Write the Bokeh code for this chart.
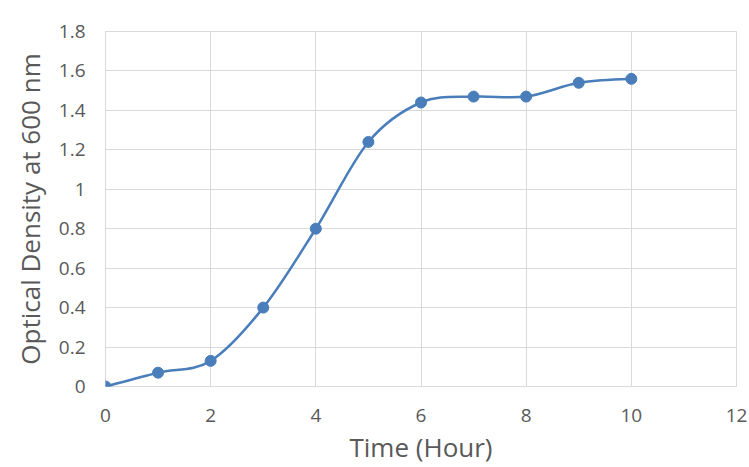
from bokeh.plotting import figure
from bokeh.models import ColumnDataSource, FixedTicker, Range1d
from bokeh.embed import file_html
from bokeh.resources import INLINE

# Data
hours = [0, 1, 2, 3, 4, 5, 6, 7, 8, 9, 10]
od600 = [0.0, 0.07, 0.13, 0.40, 0.80, 1.24, 1.44, 1.47, 1.47, 1.54, 1.56]
x_ticks = [0, 2, 4, 6, 8, 10, 12]
y_ticks = [0, 0.2, 0.4, 0.6, 0.8, 1.0, 1.2, 1.4, 1.6, 1.8]
y_tick_labels = {0: "0", 0.2: "0.2", 0.4: "0.4", 0.6: "0.6", 0.8: "0.8",
                 1.0: "1", 1.2: "1.2", 1.4: "1.4", 1.6: "1.6", 1.8: "1.8"}

BLUE = "#4a7ebb"
GRID = "#d9d9d9"
TEXT = "#595959"
FONT = "Open Sans"

# Smoothed line (Catmull-Rom -> cubic Bezier segments, as in spreadsheet smoothing)
n = len(hours)
seg = dict(x0=[], y0=[], x1=[], y1=[], cx0=[], cy0=[], cx1=[], cy1=[])
for i in range(n - 1):
    xp, yp = (hours[i - 1], od600[i - 1]) if i > 0 else (hours[i], od600[i])
    xa, ya = hours[i], od600[i]
    xb, yb = hours[i + 1], od600[i + 1]
    xn, yn = (hours[i + 2], od600[i + 2]) if i + 2 < n else (hours[i + 1], od600[i + 1])
    seg["x0"].append(xa); seg["y0"].append(ya)
    seg["x1"].append(xb); seg["y1"].append(yb)
    seg["cx0"].append(xa + (xb - xp) / 6); seg["cy0"].append(ya + (yb - yp) / 6)
    seg["cx1"].append(xb - (xn - xa) / 6); seg["cy1"].append(yb - (yn - ya) / 6)

p = figure(width=749, height=467, output_backend="svg", toolbar_location=None,
           x_range=Range1d(0, 12), y_range=Range1d(0, 1.8),
           min_border_left=105, min_border_right=13, min_border_top=31, min_border_bottom=81)

p.background_fill_color = "white"
p.border_fill_color = "white"
p.outline_line_color = GRID
p.outline_line_width = 1

p.bezier(x0="x0", y0="y0", x1="x1", y1="y1", cx0="cx0", cy0="cy0", cx1="cx1", cy1="cy1",
         source=ColumnDataSource(seg), line_color=BLUE, line_width=2.5)
p.scatter(hours, od600, size=11, fill_color=BLUE, line_color=BLUE)

for ax in (p.xaxis, p.yaxis):
    ax.axis_line_color = None
    ax.major_tick_line_color = None
    ax.minor_tick_line_color = None
    ax.major_tick_out = 0
    ax.major_label_text_font = FONT
    ax.major_label_text_font_size = "19px"
    ax.major_label_text_color = TEXT
    ax.axis_label_text_font = FONT
    ax.axis_label_text_font_size = "26px"
    ax.axis_label_text_font_style = "normal"
    ax.axis_label_text_color = TEXT

p.xaxis.ticker = FixedTicker(ticks=x_ticks)
p.yaxis.ticker = FixedTicker(ticks=y_ticks)
p.yaxis.major_label_overrides = y_tick_labels
p.xaxis.major_label_standoff = 22
p.yaxis.major_label_standoff = 20
p.xaxis.axis_label = "Time (Hour)"
p.yaxis.axis_label = "Optical Density at 600 nm"
p.xaxis.axis_label_standoff = 4
p.xaxis.axis_label_text_line_height = 1.0
p.yaxis.axis_label_standoff = 8

p.xgrid.grid_line_color = GRID
p.ygrid.grid_line_color = GRID
p.xgrid.ticker = FixedTicker(ticks=x_ticks)
p.ygrid.ticker = FixedTicker(ticks=y_ticks)

open("out.html", "w").write(file_html(p, INLINE))
